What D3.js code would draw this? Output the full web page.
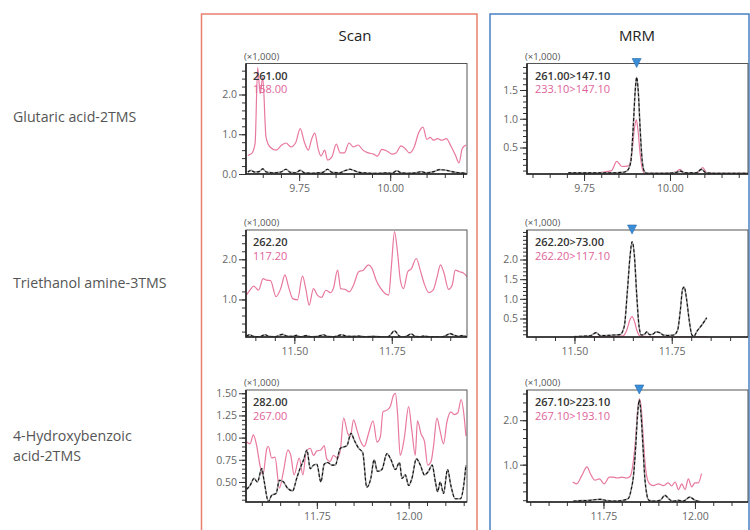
<!DOCTYPE html>
<html>
<head>
<meta charset="utf-8">
<script src="https://cdn.jsdelivr.net/npm/d3@7"></script>
<style>
body { margin: 0; background: #fff; }
svg { display: block; font-family: "Open Sans", sans-serif; }
</style>
</head>
<body>
<svg width="750" height="530"></svg>
<script>
// compounds (row labels) and column titles
var compounds = [["Glutaric acid-2TMS"], ["Triethanol amine-3TMS"], ["4-Hydroxybenzoic", "acid-2TMS"]]
var modes = ["Scan", "MRM"]

// legend ions, [black, pink]
var scanIons = [["261.00", "158.00"], ["262.20", "117.20"], ["282.00", "267.00"]]
var mrmIons = [["261.00>147.10", "233.10>147.10"], ["262.20>73.00", "262.20>117.10"], ["267.10>223.10", "267.10>193.10"]]

// retention time of the marked peak in MRM
var mrmPeaks = [9.903, 11.648, 11.848]

// ---- Glutaric acid-2TMS, [time min, intensity x1000]
var glutScanBlack = [[9.609,.05],[9.618,.09],[9.627,.05],[9.640,.06],[9.650,.13],[9.660,.05],[9.680,.03],[9.700,.05],[9.714,.12],[9.726,.04],[9.740,.03],[9.753,.09],[9.765,.03],[9.785,.02],[9.800,.03],[9.815,.04],[9.828,.12],[9.840,.04],[9.860,.03],[9.875,.08],[9.890,.12],[9.900,.09],[9.915,.04],[9.930,.03],[9.950,.02],[9.970,.02],[9.990,.03],[10.005,.02],[10.018,.08],[10.030,.03],[10.050,.02],[10.070,.03],[10.085,.06],[10.100,.03],[10.120,.06],[10.135,.11],[10.150,.10],[10.165,.07],[10.180,.04],[10.195,.03],[10.208,.02]]
var glutScanPink = [[9.609,.47],[9.620,.52],[9.629,.77],[9.636,2.68],[9.643,2.02],[9.650,2.43],[9.659,.93],[9.670,.68],[9.687,.60],[9.702,.73],[9.714,.78],[9.727,.68],[9.740,.78],[9.753,1.14],[9.764,.81],[9.775,.60],[9.784,.87],[9.793,1.03],[9.802,.64],[9.810,.45],[9.820,.60],[9.828,.35],[9.840,.43],[9.852,.75],[9.863,.53],[9.874,.53],[9.887,.78],[9.899,.68],[9.912,.73],[9.925,.60],[9.940,.53],[9.954,.50],[9.965,.45],[9.977,.62],[9.991,.58],[10.005,.50],[10.016,.53],[10.030,.71],[10.041,.64],[10.053,.53],[10.066,.68],[10.078,1.03],[10.090,1.18],[10.101,.87],[10.110,.92],[10.119,.85],[10.130,.89],[10.142,.85],[10.154,.89],[10.167,.70],[10.179,.48],[10.189,.28],[10.198,.64],[10.208,.73]]
var glutMrmBlack = [[9.704,.06],[9.760,.06],[9.820,.06],[9.864,.07],[9.876,.10],[9.886,.25],[9.893,.85],[9.899,1.50],[9.903,1.72],[9.908,1.45],[9.913,.85],[9.919,.28],[9.926,.08],[9.935,.05],[9.980,.05],[10.020,.07],[10.030,.09],[10.045,.06],[10.075,.06],[10.092,.12],[10.105,.06],[10.150,.05],[10.227,.05]]
var glutMrmPink = [[9.704,.05],[9.780,.06],[9.830,.10],[9.845,.26],[9.860,.17],[9.880,.18],[9.890,.45],[9.897,.85],[9.902,.98],[9.907,.80],[9.913,.40],[9.920,.12],[9.927,.05],[9.980,.05],[10.015,.07],[10.029,.12],[10.042,.05],[10.080,.06],[10.095,.15],[10.108,.06],[10.150,.05],[10.227,.05]]

// ---- Triethanol amine-3TMS
var teaScanBlack = [[11.377,.09],[11.386,.12],[11.395,.08],[11.410,.07],[11.425,.12],[11.435,.08],[11.450,.07],[11.470,.13],[11.480,.09],[11.495,.08],[11.505,.11],[11.515,.07],[11.530,.10],[11.545,.07],[11.560,.08],[11.575,.12],[11.585,.08],[11.600,.07],[11.622,.12],[11.635,.08],[11.650,.08],[11.665,.09],[11.680,.07],[11.700,.08],[11.720,.07],[11.735,.06],[11.745,.10],[11.757,.22],[11.768,.10],[11.778,.06],[11.790,.10],[11.800,.14],[11.810,.08],[11.822,.07],[11.832,.09],[11.845,.07],[11.860,.07],[11.875,.06],[11.890,.11],[11.900,.15],[11.910,.11],[11.920,.08],[11.930,.10],[11.943,.07]]
var teaScanPink = [[11.377,1.11],[11.386,1.23],[11.396,1.33],[11.408,1.23],[11.420,1.52],[11.429,1.48],[11.439,1.47],[11.453,1.07],[11.465,1.27],[11.476,1.61],[11.485,1.32],[11.496,1.02],[11.508,.99],[11.521,1.58],[11.530,1.23],[11.538,.86],[11.549,1.27],[11.559,1.11],[11.570,1.05],[11.581,1.23],[11.593,1.17],[11.600,1.27],[11.611,1.73],[11.619,1.27],[11.630,1.25],[11.641,1.19],[11.652,1.36],[11.665,1.69],[11.677,1.73],[11.690,1.86],[11.699,1.78],[11.710,1.48],[11.722,1.27],[11.733,1.15],[11.742,1.11],[11.749,1.82],[11.757,2.69],[11.765,2.15],[11.772,1.48],[11.780,1.27],[11.791,1.69],[11.800,1.76],[11.813,2.02],[11.823,1.73],[11.833,1.40],[11.845,1.17],[11.856,1.23],[11.866,1.55],[11.875,1.86],[11.883,1.69],[11.896,1.25],[11.905,1.36],[11.913,1.73],[11.924,1.69],[11.935,1.65],[11.943,1.57]]
var teaMrmBlack = [[11.499,.04],[11.520,.05],[11.540,.06],[11.556,.14],[11.566,.07],[11.580,.07],[11.600,.08],[11.617,.09],[11.628,.30],[11.636,1.20],[11.643,2.10],[11.648,2.45],[11.654,2.10],[11.660,1.10],[11.666,.30],[11.672,.08],[11.680,.10],[11.686,.16],[11.693,.09],[11.701,.10],[11.710,.16],[11.720,.14],[11.728,.08],[11.740,.07],[11.755,.08],[11.765,.20],[11.772,.70],[11.778,1.25],[11.782,1.30],[11.788,1.00],[11.795,.45],[11.802,.08],[11.807,.05],[11.815,.18],[11.827,.33],[11.840,.52]]
var teaMrmPink = [[11.499,.04],[11.560,.04],[11.600,.04],[11.625,.06],[11.635,.22],[11.643,.48],[11.648,.55],[11.655,.40],[11.662,.15],[11.670,.05],[11.700,.04],[11.760,.03],[11.800,.03],[11.840,.04]]

// ---- 4-Hydroxybenzoic acid-2TMS
var hbaScanBlack = [[11.559,.42],[11.568,.46],[11.579,.54],[11.588,.50],[11.600,.65],[11.606,.52],[11.618,.28],[11.627,.35],[11.639,.37],[11.648,.52],[11.659,.50],[11.670,.43],[11.684,.40],[11.695,.54],[11.704,.65],[11.714,.75],[11.723,.86],[11.732,.65],[11.741,.69],[11.750,.70],[11.761,.50],[11.770,.70],[11.779,.72],[11.791,.69],[11.800,.69],[11.814,.88],[11.832,.91],[11.843,1.05],[11.852,.97],[11.864,.88],[11.875,.83],[11.886,.44],[11.897,.54],[11.906,.75],[11.915,.62],[11.927,.64],[11.941,.82],[11.952,.75],[11.964,.64],[11.975,.72],[11.982,.54],[11.991,.58],[12.000,.46],[12.009,.54],[12.021,.76],[12.032,.69],[12.043,.58],[12.054,.62],[12.064,.69],[12.073,.50],[12.079,.39],[12.086,.50],[12.095,.37],[12.106,.64],[12.115,.46],[12.127,.31],[12.141,.31],[12.150,.46],[12.156,.69]]
var hbaScanPink = [[11.559,.95],[11.568,.93],[11.577,1.03],[11.586,.91],[11.595,.69],[11.603,.58],[11.614,.88],[11.618,.90],[11.627,.77],[11.636,.78],[11.648,.43],[11.659,.62],[11.671,.86],[11.679,.80],[11.688,.58],[11.702,.77],[11.712,.58],[11.721,.84],[11.732,.88],[11.741,.80],[11.750,.85],[11.761,.86],[11.770,.91],[11.777,.76],[11.786,.73],[11.795,.80],[11.806,.77],[11.814,.86],[11.823,1.22],[11.834,1.05],[11.841,1.01],[11.850,1.20],[11.859,1.09],[11.870,.95],[11.879,.90],[11.891,1.05],[11.903,1.19],[11.914,.95],[11.923,1.01],[11.930,1.29],[11.941,1.31],[11.950,1.35],[11.959,1.48],[11.964,1.50],[11.970,1.26],[11.977,.80],[11.988,.99],[12.000,1.35],[12.009,1.07],[12.018,.80],[12.024,1.19],[12.034,1.04],[12.043,.96],[12.052,.69],[12.061,.73],[12.068,.91],[12.077,1.22],[12.086,1.07],[12.095,.93],[12.104,1.17],[12.115,1.29],[12.124,1.26],[12.134,1.28],[12.143,1.43],[12.150,1.28],[12.156,1.02]]
var hbaMrmBlack = [[11.668,.18],[11.690,.19],[11.714,.20],[11.741,.22],[11.760,.19],[11.777,.18],[11.805,.20],[11.818,.24],[11.826,.45],[11.832,.75],[11.838,1.40],[11.843,2.10],[11.848,2.46],[11.853,2.10],[11.858,1.40],[11.863,.70],[11.868,.35],[11.874,.20],[11.886,.18],[11.905,.20],[11.918,.31],[11.930,.22],[11.941,.18],[11.955,.20],[11.968,.18],[11.986,.27],[12.000,.20],[12.014,.17]]
var hbaMrmPink = [[11.666,.61],[11.677,.57],[11.691,.76],[11.705,.95],[11.714,.80],[11.727,.65],[11.739,.68],[11.752,.57],[11.766,.72],[11.777,.72],[11.788,.70],[11.800,.72],[11.814,.70],[11.823,.74],[11.832,1.10],[11.838,1.60],[11.843,2.20],[11.848,2.48],[11.853,2.30],[11.858,1.70],[11.863,1.10],[11.868,.75],[11.876,.57],[11.886,.53],[11.900,.57],[11.914,.53],[11.927,.59],[11.936,.52],[11.946,.61],[11.955,.44],[11.964,.57],[11.973,.44],[11.982,.68],[11.991,.50],[12.000,.59],[12.009,.59],[12.018,.80]]

// tick labels
var yTicks = [[0, 1, 2], [0.5, 1, 1.5], [1, 2], [0.5, 1, 1.5, 2], [0.5, 0.75, 1, 1.25, 1.5], [1, 2]]
var xTicks = [[9.75, 10], [9.75, 10], [11.5, 11.75], [11.5, 11.75], [11.75, 12], [11.75, 12]]

var pink = "#e8789f"

const svg = d3.select("svg")

var cols = [{x0: 246, x1: 467}, {x0: 527, x1: 748}]
var rows = [{y0: 63.5, y1: 174}, {y0: 230, y1: 337}, {y0: 390, y1: 502}]

var panels = [
	{row: 0, col: 0, xd: [9.604, 10.211], yd: [0, 2.78], minor: 0.2, fmt: ".1f", ions: scanIons[0], k: glutScanBlack, p: glutScanPink},
	{row: 0, col: 1, xd: [9.584, 10.227], yd: [0.04, 1.96], minor: 0.1, fmt: ".1f", ions: mrmIons[0], k: glutMrmBlack, p: glutMrmPink, peak: mrmPeaks[0]},
	{row: 1, col: 0, xd: [11.376, 11.943], yd: [0.065, 2.73], minor: 0.2, fmt: ".1f", ions: scanIons[1], k: teaScanBlack, p: teaScanPink},
	{row: 1, col: 1, xd: [11.378, 11.946], yd: [0.03, 2.75], minor: 0.1, fmt: ".1f", ions: mrmIons[1], k: teaMrmBlack, p: teaMrmPink, peak: mrmPeaks[1]},
	{row: 2, col: 0, xd: [11.557, 12.159], yd: [0.274, 1.537], minor: 0.05, fmt: ".2f", ions: scanIons[2], k: hbaScanBlack, p: hbaScanPink},
	{row: 2, col: 1, xd: [11.541, 12.145], yd: [0.16, 2.68], minor: 0.2, fmt: ".1f", ions: mrmIons[2], k: hbaMrmBlack, p: hbaMrmPink, peak: mrmPeaks[2]}
]

// outer boxes
svg.append("rect").attr("x", 201.5).attr("y", 14).attr("width", 275.5).attr("height", 530)
	.attr("fill", "none").attr("stroke", "#e9806b").attr("stroke-width", 1.5)
svg.append("rect").attr("x", 490).attr("y", 14).attr("width", 259).attr("height", 530)
	.attr("fill", "none").attr("stroke", "#4a80c4").attr("stroke-width", 1.5)

svg.selectAll(".title").data(modes).join("text")
	.attr("x", (d, i) => i == 0 ? 355 : 637)
	.attr("y", 41)
	.attr("text-anchor", "middle")
	.style("font-size", "15px")
	.attr("fill", "#222")
	.text(d => d)

// row labels
var labelY = [122, 288, 441]
compounds.forEach(function(lines, i) {
	svg.append("text")
		.attr("x", 13).attr("y", labelY[i])
		.style("font-size", "14.2px").attr("fill", "#555")
		.selectAll("tspan").data(lines).join("tspan")
		.attr("x", 13).attr("dy", (d, j) => j == 0 ? 0 : 20)
		.text(d => d)
})

panels.forEach(function(pn, i) {
	var c = cols[pn.col], r = rows[pn.row]
	var x = d3.scaleLinear().domain(pn.xd).range([c.x0, c.x1])
	var y = d3.scaleLinear().domain(pn.yd).range([r.y1, r.y0])
	var g = svg.append("g")

	var clipId = "clip" + i
	g.append("clipPath").attr("id", clipId).append("rect")
		.attr("x", c.x0).attr("y", r.y0).attr("width", c.x1 - c.x0).attr("height", r.y1 - r.y0)

	// minor ticks
	var yMinor = d3.range(Math.ceil(pn.yd[0] / pn.minor - 1e-6) * pn.minor, pn.yd[1], pn.minor)
	g.append("g").attr("transform", `translate(${c.x0},0)`)
		.call(d3.axisLeft(y).tickValues(yMinor).tickSize(4).tickFormat(""))
		.call(a => a.select(".domain").remove())
		.selectAll("line").attr("stroke", "#333")
	var xMinor = d3.range(Math.ceil(pn.xd[0] / 0.05 - 1e-6) * 0.05, pn.xd[1], 0.05)
	g.append("g").attr("transform", `translate(0,${r.y1})`)
		.call(d3.axisBottom(x).tickValues(xMinor).tickSize(4).tickFormat(""))
		.call(a => a.select(".domain").remove())
		.selectAll("line").attr("stroke", "#333")

	// major ticks + labels
	var ya = g.append("g").attr("transform", `translate(${c.x0},0)`)
		.call(d3.axisLeft(y).tickValues(yTicks[i]).tickSize(7).tickPadding(2).tickFormat(d3.format(pn.fmt)))
	ya.select(".domain").remove()
	ya.selectAll("text").attr("fill", "#666").style("font-size", "10.5px").style("font-family", "Open Sans, sans-serif")
	ya.selectAll("line").attr("stroke", "#333")
	var xa = g.append("g").attr("transform", `translate(0,${r.y1})`)
		.call(d3.axisBottom(x).tickValues(xTicks[i]).tickSize(7).tickPadding(4).tickFormat(d3.format(".2f")))
	xa.select(".domain").remove()
	xa.selectAll("text").attr("fill", "#666").style("font-size", "10.5px").style("font-family", "Open Sans, sans-serif")
	xa.selectAll("line").attr("stroke", "#333")

	var line = d3.line().x(d => x(d[0])).y(d => y(d[1])).curve(d3.curveMonotoneX)
	var traces = g.append("g").attr("clip-path", `url(#${clipId})`)
	traces.append("path").attr("d", line(pn.p)).attr("fill", "none").attr("stroke", pink).attr("stroke-width", 1.2)
	traces.append("path").attr("d", line(pn.k)).attr("fill", "none").attr("stroke", "#9a9a9a").attr("stroke-width", 1.6)
	traces.append("path").attr("d", line(pn.k)).attr("fill", "none").attr("stroke", "#111").attr("stroke-width", 1.1)
		.attr("stroke-dasharray", "3,2")

	// frame
	g.append("rect").attr("x", c.x0).attr("y", r.y0).attr("width", c.x1 - c.x0).attr("height", r.y1 - r.y0)
		.attr("fill", "none").attr("stroke", "#555").attr("stroke-width", 1)
	g.append("path").attr("d", `M${c.x0},${r.y0}V${r.y1}H${c.x1}`)
		.attr("fill", "none").attr("stroke", "#222").attr("stroke-width", 1.6)

	g.append("text").attr("x", c.x0 - 2).attr("y", r.y0 - 4)
		.style("font-size", "9.5px").attr("fill", "#555").text("(\u00d71,000)")

	g.selectAll(".ion").data(pn.ions).join("text")
		.attr("x", c.x0 + 7 + (pn.col == 1 ? 1 : 0))
		.attr("y", (d, j) => r.y0 + 16 + j * 13.5)
		.style("font-size", "11px")
		.style("font-weight", (d, j) => j == 0 ? 600 : 400)
		.attr("fill", (d, j) => j == 0 ? "#333" : "#e0649a")
		.text(d => d)

	if (pn.peak != null) {
		var px = x(pn.peak)
		g.append("path").attr("d", `M${px - 4.5},${r.y0 - 5}H${px + 4.5}L${px},${r.y0 + 4}Z`)
			.attr("fill", "#3a8ed8").attr("stroke", "#2a6aa8").attr("stroke-width", 0.6)
	}
})
</script>
</body>
</html>
